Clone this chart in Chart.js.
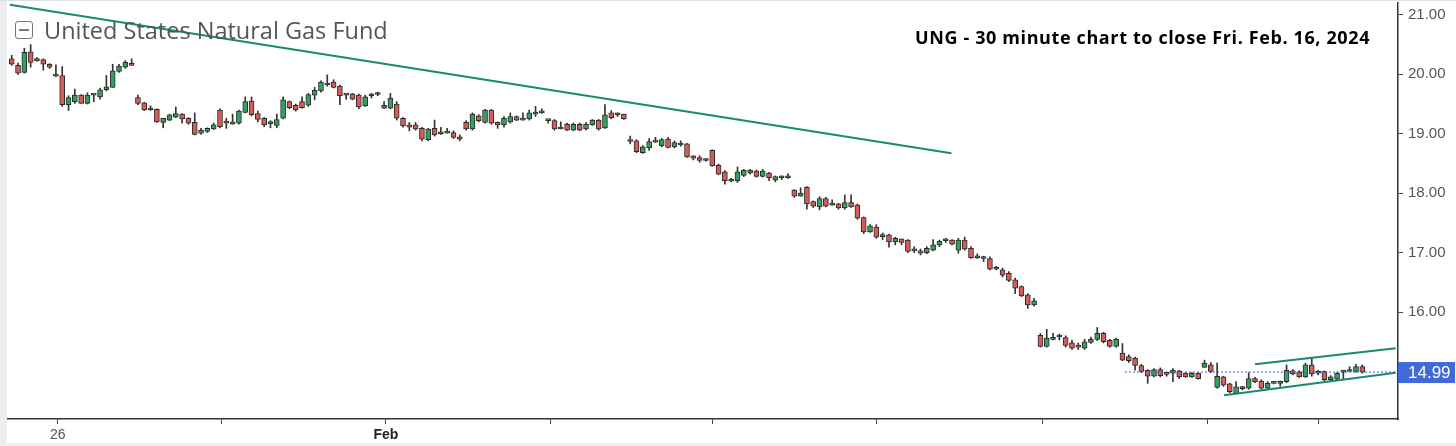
<!DOCTYPE html>
<html>
<head>
<meta charset="utf-8">
<script src="https://cdn.jsdelivr.net/npm/chart.js@4.4.1/dist/chart.umd.min.js"></script>
<style>
  body { margin: 0; background: #fff; }
  #wrap { position: relative; width: 1456px; height: 446px; overflow: hidden; background: #fff; }
  #edgeL { position: absolute; left: 0; top: 0; width: 7px; height: 446px; background: #eceef1; }
  #edgeB { position: absolute; left: 0; top: 443px; width: 1456px; height: 3px; background: #eceef1; }
  #edgeT { position: absolute; left: 0; top: 0; width: 1456px; height: 1px; background: #dcdfe3; }
  #title { position: absolute; left: 44px; top: 14px; font: 23.5px "Open Sans", sans-serif; color: #555; white-space: nowrap; }
  #icon { position: absolute; left: 15px; top: 21px; width: 16px; height: 16px; border: 1.5px solid #777; border-radius: 3px; }
  #icon::after { content: ""; position: absolute; left: 3px; right: 3px; top: 7px; height: 1.5px; background: #777; }
  #note { position: absolute; left: 915px; top: 25px; font: bold 18px "Open Sans", sans-serif; letter-spacing: 0.62px; color: #000; white-space: nowrap; }
  canvas { position: absolute; left: 0; top: 0; }
</style>
</head>
<body>
<div id="wrap">
  <canvas id="myChart" width="1456" height="446"></canvas>
  <div id="edgeL"></div><div id="edgeB"></div><div id="edgeT"></div>
  <div id="icon"></div>
  <div id="title">United States Natural Gas Fund</div>
  <div id="note">UNG - 30 minute chart to close Fri. Feb. 16, 2024</div>
</div>
<script>
// 30 minute bars, oldest first
const opens = [
  20.26,20.15,20.03,20.38,20.23,20.25,20.17,19.98,19.98,19.49,
  19.54,19.65,19.51,19.65,19.62,19.74,19.78,20.05,20.12,20.18,
  19.61,19.52,19.40,19.41,19.19,19.23,19.28,19.33,19.26,19.19,
  19.01,19.04,19.08,19.40,19.19,19.16,19.18,19.36,19.55,19.34,
  19.26,19.17,19.14,19.26,19.54,19.48,19.54,19.48,19.65,19.72,
  19.82,19.87,19.80,19.66,19.67,19.65,19.47,19.64,19.66,19.43,
  19.43,19.50,19.26,19.15,19.15,19.09,18.90,19.09,19.00,19.01,
  19.02,18.95,19.19,19.08,19.30,19.19,19.40,19.19,19.15,19.20,
  19.29,19.23,19.25,19.33,19.35,19.22,19.22,19.08,19.16,19.06,
  19.16,19.08,19.15,19.23,19.10,19.35,19.32,19.33,18.88,18.88,
  18.68,18.76,18.87,18.80,18.91,18.78,18.81,18.83,18.63,18.60,
  18.57,18.72,18.47,18.36,18.20,18.21,18.30,18.34,18.37,18.28,
  18.34,18.22,18.26,18.26,18.05,17.95,18.10,17.86,17.77,17.91,
  17.80,17.82,17.75,17.84,17.80,17.59,17.35,17.43,17.27,17.30,
  17.18,17.23,17.21,17.04,17.03,17.00,17.04,17.13,17.21,17.21,
  17.04,17.21,17.07,16.91,16.91,16.90,16.72,16.71,16.65,16.54,
  16.43,16.29,16.12,15.61,15.42,15.54,15.58,15.57,15.48,15.44,
  15.39,15.49,15.54,15.64,15.53,15.42,15.31,15.25,15.22,15.10,
  15.02,14.92,15.03,14.98,14.97,15.01,14.97,14.91,14.97,15.07,
  15.11,14.73,14.91,14.79,14.63,14.71,14.72,14.88,14.84,14.72,
  14.80,14.80,14.83,15.01,14.99,14.91,15.11,14.97,15.00,14.86,
  14.87,14.99,15.00,15.00,15.08
];
const highs = [
  20.32,20.19,20.44,20.50,20.28,20.26,20.18,20.16,20.13,19.64,
  19.75,19.66,19.69,19.67,19.77,19.98,20.17,20.17,20.23,20.26,
  19.65,19.53,19.47,19.42,19.26,19.33,19.45,19.34,19.27,19.35,
  19.09,19.10,19.18,19.42,19.26,19.33,19.40,19.62,19.62,19.38,
  19.27,19.22,19.33,19.62,19.55,19.50,19.62,19.68,19.78,19.89,
  19.99,19.91,19.82,19.67,19.68,19.67,19.65,19.68,19.70,19.54,
  19.68,19.54,19.27,19.19,19.19,19.11,19.09,19.23,19.11,19.09,
  19.05,18.98,19.22,19.35,19.32,19.41,19.41,19.20,19.29,19.35,
  19.30,19.35,19.40,19.46,19.42,19.23,19.24,19.20,19.18,19.18,
  19.18,19.19,19.24,19.24,19.49,19.39,19.35,19.33,18.96,18.90,
  18.80,18.92,18.94,18.92,18.94,18.88,18.88,18.84,18.63,18.63,
  18.58,18.73,18.49,18.38,18.25,18.44,18.40,18.40,18.39,18.40,
  18.35,18.29,18.29,18.33,18.06,18.09,18.11,17.87,17.94,17.93,
  17.89,17.83,17.97,17.97,17.82,17.60,17.47,17.47,17.33,17.31,
  17.26,17.23,17.22,17.10,17.06,17.10,17.22,17.21,17.24,17.22,
  17.24,17.26,17.10,16.98,16.94,16.93,16.77,16.74,16.68,16.57,
  16.44,16.31,16.23,15.64,15.71,15.64,15.63,15.60,15.53,15.48,
  15.54,15.58,15.74,15.66,15.54,15.56,15.47,15.28,15.24,15.12,
  15.03,15.05,15.06,14.98,15.05,15.02,14.98,14.98,14.98,15.19,
  15.15,15.14,14.92,14.80,14.83,14.75,14.98,14.90,14.86,14.83,
  14.81,14.84,15.11,15.03,15.01,15.14,15.22,15.02,15.01,14.93,
  14.98,15.02,15.08,15.12,15.11
];
const lows = [
  20.15,20.00,20.02,20.12,20.22,20.07,20.10,19.96,19.46,19.39,
  19.51,19.51,19.50,19.54,19.58,19.72,19.78,20.03,20.10,20.15,
  19.49,19.39,19.39,19.19,19.10,19.22,19.27,19.18,19.16,18.98,
  18.99,19.02,19.07,19.10,19.09,19.16,19.16,19.35,19.30,19.20,
  19.12,19.10,19.10,19.25,19.42,19.38,19.43,19.46,19.57,19.70,
  19.80,19.77,19.49,19.58,19.57,19.42,19.46,19.60,19.64,19.42,
  19.42,19.23,19.11,19.05,19.06,18.88,18.88,18.96,18.99,19.01,
  18.92,18.88,19.06,19.06,19.20,19.18,19.16,19.09,19.11,19.18,
  19.22,19.23,19.23,19.29,19.34,19.18,19.06,19.08,19.05,19.05,
  19.05,19.06,19.14,19.06,19.09,19.25,19.29,19.24,18.83,18.68,
  18.67,18.72,18.85,18.78,18.76,18.76,18.79,18.60,18.56,18.52,
  18.54,18.45,18.31,18.15,18.19,18.18,18.28,18.32,18.27,18.27,
  18.21,18.19,18.23,18.25,17.93,17.95,17.73,17.76,17.72,17.77,
  17.80,17.73,17.73,17.76,17.56,17.32,17.34,17.24,17.22,17.09,
  17.13,17.13,17.00,17.00,16.96,16.98,17.03,17.10,17.17,17.13,
  16.99,17.04,16.90,16.90,16.85,16.71,16.71,16.59,16.51,16.31,
  16.26,16.06,16.10,15.41,15.41,15.53,15.53,15.41,15.37,15.37,
  15.37,15.47,15.52,15.48,15.41,15.41,15.18,15.15,15.02,14.98,
  14.80,14.91,14.91,14.92,14.83,14.88,14.90,14.90,14.87,15.07,
  14.98,14.72,14.75,14.64,14.62,14.69,14.70,14.81,14.70,14.70,
  14.79,14.75,14.81,14.94,14.90,14.90,14.92,14.94,14.84,14.83,
  14.86,14.86,15.00,14.99,14.97
];
const closes = [
  20.17,20.02,20.37,20.20,20.26,20.17,20.12,19.97,19.49,19.61,
  19.65,19.51,19.65,19.66,19.74,19.79,20.06,20.14,20.20,20.15,
  19.51,19.40,19.41,19.20,19.26,19.32,19.34,19.25,19.18,18.99,
  19.06,19.09,19.15,19.12,19.18,19.20,19.38,19.54,19.32,19.24,
  19.15,19.18,19.24,19.57,19.44,19.40,19.44,19.66,19.73,19.87,
  19.84,19.78,19.64,19.65,19.58,19.45,19.62,19.65,19.67,19.48,
  19.60,19.26,19.13,19.11,19.08,18.91,19.08,18.98,19.01,19.03,
  18.94,18.91,19.08,19.33,19.22,19.40,19.18,19.15,19.26,19.29,
  19.23,19.25,19.35,19.34,19.37,19.22,19.08,19.09,19.06,19.16,
  19.06,19.16,19.23,19.08,19.32,19.27,19.33,19.25,18.87,18.70,
  18.78,18.87,18.86,18.90,18.77,18.85,18.82,18.61,18.59,18.55,
  18.55,18.46,18.32,18.21,18.22,18.36,18.39,18.39,18.28,18.37,
  18.26,18.28,18.27,18.27,17.95,18.00,17.82,17.78,17.91,17.78,
  17.82,17.75,17.84,17.77,17.58,17.35,17.45,17.26,17.28,17.18,
  17.24,17.17,17.02,17.03,16.99,17.07,17.13,17.19,17.20,17.14,
  17.21,17.06,16.91,16.92,16.90,16.72,16.73,16.62,16.53,16.40,
  16.27,16.12,16.19,15.42,15.56,15.57,15.59,15.44,15.39,15.41,
  15.50,15.54,15.64,15.50,15.42,15.54,15.19,15.18,15.10,15.00,
  14.92,15.03,14.93,14.95,15.02,14.91,14.91,14.97,14.88,15.14,
  15.00,14.92,14.77,14.66,14.74,14.72,14.88,14.83,14.72,14.80,
  14.80,14.81,15.02,14.96,14.91,15.11,14.96,14.98,14.86,14.91,
  14.97,15.01,15.02,15.08,14.99
];

// x axis: bar index where each tick sits, and its label
const tickBars = [7.3, 33.2, 59.3, 85.3, 111.1, 137.1, 163.3, 189.4, 207.1];
const tickLabels = ["26", "", "Feb", "", "", "", "", "", ""];
const priceTicks = [16, 17, 18, 19, 20, 21];

// drawn trend lines [barIndex, price]
const trendDown = [[-0.3, 21.17], [148.9, 18.67]];
const channelTop = [[197.0, 15.12], [219.3, 15.39]];
const channelLow = [[192.1, 14.60], [219.3, 14.98]];
const lastPrice = 14.99;
const lastLineFrom = 176.4;

const UP = "#34a060", DOWN = "#d65c57", EDGE = "#2a2a2a";
const TREND = "#178a72";

const idx = opens.map((_, i) => i);
const toXY = pts => pts.map(p => ({ x: p[0], y: p[1] }));

// blue last-price tag on the right axis
const priceBox = {
  id: "priceBox",
  afterDraw(chart) {
    const { ctx, scales } = chart;
    const y = scales.y.getPixelForValue(lastPrice);
    const x = chart.chartArea.right;
    ctx.save();
    ctx.fillStyle = "#4169d9";
    ctx.fillRect(x, y - 10, 57, 21);
    ctx.fillStyle = "#fff";
    ctx.font = "17px 'Liberation Sans', Arial, sans-serif";
    ctx.textBaseline = "middle";
    ctx.fillText(lastPrice.toFixed(2), x + 10, y + 1);
    ctx.restore();
  }
};

Chart.defaults.font.family = "'Liberation Sans', Arial, sans-serif";

new Chart(document.getElementById("myChart"), {
  data: {
    datasets: [
      {
        type: "line",
        data: toXY(trendDown),
        borderColor: TREND, borderWidth: 2, pointRadius: 0, order: 0,
      },
      {
        type: "line",
        data: toXY(channelTop),
        borderColor: TREND, borderWidth: 2, pointRadius: 0, order: 0,
      },
      {
        type: "line",
        data: toXY(channelLow),
        borderColor: TREND, borderWidth: 2, pointRadius: 0, order: 0,
      },
      {
        type: "line",
        data: [{ x: lastLineFrom, y: lastPrice }, { x: 219.7, y: lastPrice }],
        borderColor: "#3a5bd0", borderWidth: 1, borderDash: [2, 2], pointRadius: 0, order: 0,
      },
      {
        type: "bar",
        data: idx.map(i => ({ x: i, y: [opens[i], closes[i]] })),
        backgroundColor: idx.map(i => closes[i] >= opens[i] ? UP : DOWN),
        borderColor: EDGE, borderWidth: 1, borderSkipped: false,
        barThickness: 5, minBarLength: 2, grouped: false, order: 1,
      },
      {
        type: "bar",
        data: idx.map(i => ({ x: i, y: [lows[i], highs[i]] })),
        backgroundColor: "#333", borderWidth: 0,
        barThickness: 1, grouped: false, order: 2,
      },
    ],
  },
  options: {
    responsive: false,
    animation: false,
    devicePixelRatio: 1,
    layout: { padding: { left: 8, top: 3, right: 0, bottom: 0 } },
    plugins: { legend: { display: false }, tooltip: { enabled: false } },
    scales: {
      x: {
        type: "linear",
        offset: false,
        min: -0.59, max: 219.66,
        afterBuildTicks: axis => { axis.ticks = tickBars.map(v => ({ value: v })); },
        afterFit: scale => {
          scale.height = 27;
          scale.paddingLeft = 0; scale.paddingRight = 0;
        },
        grid: { offset: false, drawOnChartArea: false, tickLength: 5, color: "#444" },
        border: { display: true, color: "#333", width: 1.5 },
        ticks: {
          autoSkip: false, maxRotation: 0, padding: 3,
          callback: (v, i) => tickLabels[i],
          font: c => ({ size: 14, weight: c.tick && c.tick.label === "Feb" ? "bold" : "normal" }),
          color: c => (c.tick && c.tick.label === "Feb" ? "#222" : "#555"),
        },
      },
      y: {
        position: "right",
        min: 14.2, max: 21.2,
        afterBuildTicks: axis => { axis.ticks = priceTicks.map(v => ({ value: v })); },
        afterFit: scale => {
          scale.width = 58;
          scale.paddingTop = 0; scale.paddingBottom = 0;
        },
        grid: { drawOnChartArea: false, tickLength: 5, color: "#444" },
        border: { display: true, color: "#333", width: 1.5 },
        ticks: {
          padding: 5, color: "#555", font: { size: 15 },
          callback: v => v.toFixed(2),
        },
      },
    },
  },
  plugins: [priceBox],
});
</script>
</body>
</html>
